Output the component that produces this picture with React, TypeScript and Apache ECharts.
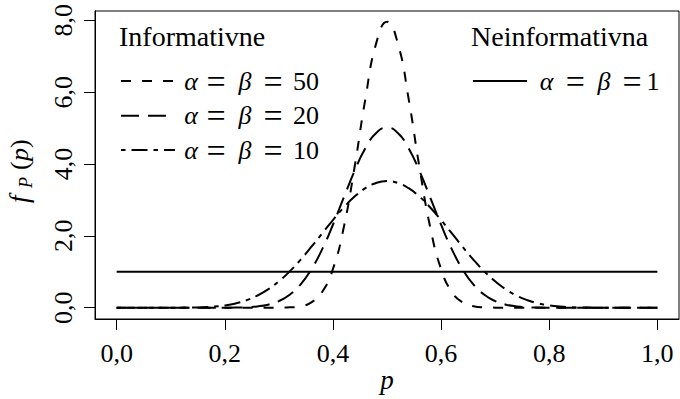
import React, { useEffect, useRef } from 'react';
import * as echarts from 'echarts';

const FONT = 'Liberation Serif, Times New Roman, Times, DejaVu Serif, serif';

// p grid (x values)
const pValues = [
  0.0, 0.02, 0.04, 0.06, 0.08, 0.1, 0.12, 0.14, 0.16, 0.18,
  0.2, 0.22, 0.24, 0.26, 0.28, 0.3, 0.32, 0.34, 0.36, 0.38,
  0.4, 0.42, 0.44, 0.46, 0.48, 0.5, 0.52, 0.54, 0.56, 0.58,
  0.6, 0.62, 0.64, 0.66, 0.68, 0.7, 0.72, 0.74, 0.76, 0.78,
  0.8, 0.82, 0.84, 0.86, 0.88, 0.9, 0.92, 0.94, 0.96, 0.98, 1.0,
];

// density alpha = beta = 50
const densA50 = [
  0, 0, 0, 0, 0, 0, 0, 0, 0, 0,
  0, 0, 0, 0, 0.0002, 0.0016, 0.0089, 0.04, 0.146, 0.435,
  1.077, 2.234, 3.91, 5.811, 7.358, 7.959, 7.358, 5.811, 3.91, 2.234,
  1.077, 0.435, 0.146, 0.04, 0.0089, 0.0016, 0.0002, 0, 0, 0,
  0, 0, 0, 0, 0, 0, 0, 0, 0, 0, 0,
];

// density alpha = beta = 20
const densA20 = [
  0, 0, 0, 0, 0, 0, 0, 0, 0, 0.0002,
  0.001, 0.004, 0.013, 0.035, 0.084, 0.183, 0.359, 0.644, 1.063, 1.625,
  2.309, 3.064, 3.807, 4.439, 4.864, 5.015, 4.864, 4.439, 3.807, 3.064,
  2.309, 1.625, 1.063, 0.644, 0.359, 0.183, 0.084, 0.035, 0.013, 0.004,
  0.001, 0.0002, 0, 0, 0, 0, 0, 0, 0, 0, 0,
];

// density alpha = beta = 10
const densA10 = [
  0, 0, 0, 0, 0.0001, 0.0004, 0.0015, 0.005, 0.013, 0.031,
  0.063, 0.119, 0.206, 0.334, 0.508, 0.734, 1.01, 1.333, 1.69, 2.066,
  2.44, 2.79, 3.092, 3.326, 3.473, 3.524, 3.473, 3.326, 3.092, 2.79,
  2.44, 2.066, 1.69, 1.333, 1.01, 0.734, 0.508, 0.334, 0.206, 0.119,
  0.063, 0.031, 0.013, 0.005, 0.0015, 0.0004, 0.0001, 0, 0, 0, 0,
];

// non-informative alpha = beta = 1
const uniformP = [0, 1];
const uniformDens = [1, 1];

const xTicks = [0, 0.2, 0.4, 0.6, 0.8, 1.0];
const xTickLabels = ['0,0', '0,2', '0,4', '0,6', '0,8', '1,0'];
const yTicks = [0, 2, 4, 6, 8];
const yTickLabels = ['0,0', '2,0', '4,0', '6,0', '8,0'];

const zip = (xs: number[], ys: number[]) => xs.map((x, i) => [x, ys[i]]);
const lookup = (ticks: number[], labels: string[]) => (v: number) => {
  const i = ticks.findIndex((t) => Math.abs(t - v) < 1e-9);
  return i >= 0 ? labels[i] : '';
};

const DASH_50 = [10, 11];
const DASH_20 = [18, 9];
const DASH_10 = [4.5, 6, 16, 6];

function txt(x: number, y: number, text: string, size: number, italic: boolean, align = 'center') {
  return {
    type: 'text',
    x,
    y,
    style: {
      text,
      fontFamily: FONT,
      fontSize: size,
      fontStyle: italic ? 'italic' : 'normal',
      fill: '#000',
      textAlign: align,
      textVerticalAlign: 'middle',
    },
  };
}

function mathRow(y: number, centers: number[], num: string) {
  return [
    txt(centers[0], y, 'α', 26, true),
    txt(centers[1], y, '=', 34, false),
    txt(centers[2], y, 'β', 26, true),
    txt(centers[3], y, '=', 34, false),
    txt(centers[4], y, num, 26, false),
  ];
}

function legendLine(x1: number, x2: number, y: number, dash: number[] | null) {
  return {
    type: 'line',
    shape: { x1, y1: y, x2, y2: y },
    style: {
      stroke: '#000',
      lineWidth: 2,
      lineDash: dash || undefined,
      lineCap: 'butt',
    },
  };
}

export default function App() {
  const ref = useRef<HTMLDivElement>(null);
  useEffect(() => {
    const chart = echarts.init(ref.current!, null, { renderer: 'svg' });
    const lineSeries = (name: string, data: number[][], dash: any) => ({
      name,
      type: 'line',
      data,
      showSymbol: false,
      symbol: 'none',
      smooth: name === 'u' ? false : 0.5,
      lineStyle: { color: '#000', width: 2, type: dash, cap: 'butt', join: 'round' },
      emphasis: { disabled: true },
    });
    const leftCenters = [191, 216, 245, 273, 306];
    const rightCenters = [546.7, 575.3, 604, 632, 653];
    chart.setOption({
      animation: false,
      backgroundColor: '#fff',
      textStyle: { fontFamily: FONT },
      grid: {
        left: 95,
        top: 11,
        width: 584,
        height: 308,
        show: true,
        borderColor: '#000',
        borderWidth: 1,
        backgroundColor: 'transparent',
      },
      xAxis: {
        type: 'value',
        min: -0.04,
        max: 1.04,
        axisLine: { show: true, onZero: false, lineStyle: { color: '#000', width: 1 } },
        splitLine: { show: false },
        axisTick: {
          show: true,
          customValues: xTicks,
          length: 11,
          inside: false,
          lineStyle: { color: '#000', width: 1 },
        },
        axisLabel: {
          show: true,
          customValues: xTicks,
          formatter: lookup(xTicks, xTickLabels),
          margin: 21,
          color: '#000',
          fontFamily: FONT,
          fontSize: 26,
        },
      },
      yAxis: {
        type: 'value',
        min: -0.315,
        max: 8.259,
        axisLine: { show: true, onZero: false, lineStyle: { color: '#000', width: 1 } },
        splitLine: { show: false },
        axisTick: {
          show: true,
          customValues: yTicks,
          length: 11,
          inside: false,
          lineStyle: { color: '#000', width: 1 },
        },
        axisLabel: {
          show: true,
          customValues: yTicks,
          formatter: lookup(yTicks, yTickLabels),
          rotate: 90,
          margin: 19,
          color: '#000',
          fontFamily: FONT,
          fontSize: 26,
        },
      },
      series: [
        lineSeries('u', zip(uniformP, uniformDens), 'solid'),
        lineSeries('a10', zip(pValues, densA10), DASH_10),
        lineSeries('a20', zip(pValues, densA20), DASH_20),
        lineSeries('a50', zip(pValues, densA50), DASH_50),
      ],
      graphic: [
        txt(119, 36, 'Informativne', 28, false, 'left'),
        txt(471, 36, 'Neinformativna', 28, false, 'left'),
        legendLine(121, 175, 81, DASH_50),
        legendLine(121, 175, 115.7, DASH_20),
        legendLine(121, 175, 150, DASH_10),
        legendLine(473, 527, 81, null),
        ...mathRow(81.7, leftCenters, '50'),
        ...mathRow(115.8, leftCenters, '20'),
        ...mathRow(150, leftCenters, '10'),
        ...mathRow(81.7, rightCenters, '1'),
        txt(387, 380, 'p', 27, true),
        {
          type: 'group',
          x: 28,
          y: 203,
          rotation: Math.PI / 2,
          children: [
            txt(0, -8.8, 'f', 27, true, 'left'),
            txt(15, -2.4, 'P', 18, true, 'left'),
            txt(33, -8.8, '(', 26, false, 'left'),
            txt(42, -8.8, 'p', 26, true, 'left'),
            txt(55, -8.8, ')', 26, false, 'left'),
          ],
        },
      ],
    });
    return () => chart.dispose();
  }, []);
  return (
    <div
      ref={ref}
      style={{ position: 'fixed', left: 0, top: 0, width: 680, height: 399, background: '#fff' }}
    />
  );
}
